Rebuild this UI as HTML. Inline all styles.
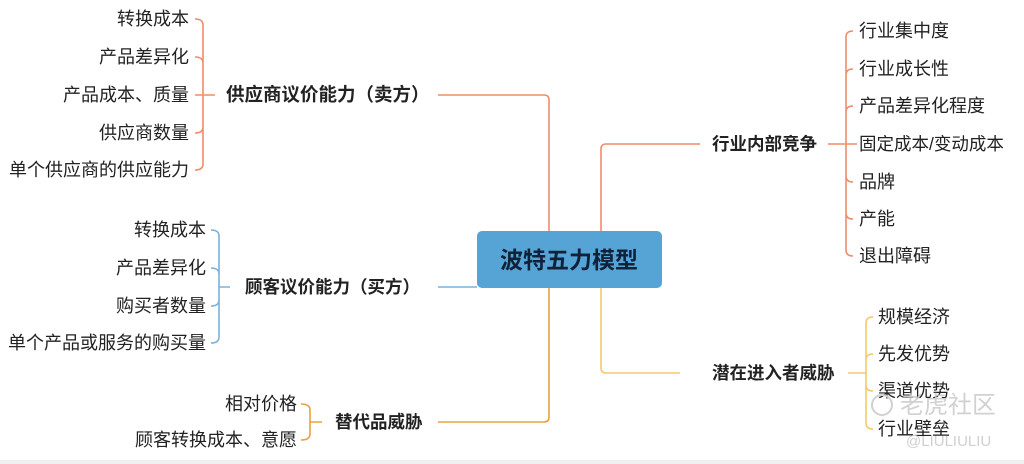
<!DOCTYPE html>
<html><head><meta charset="utf-8"><style>
html,body{margin:0;padding:0;background:#fff;}
svg{display:block;}
text{font-family:"Liberation Sans","Noto Sans CJK SC",sans-serif;fill:#222;}
.l{font-size:18px;}
.b{font-size:17.5px;font-weight:bold;}
</style></head><body>
<svg width="1024" height="464" viewBox="0 0 1024 464" xmlns="http://www.w3.org/2000/svg">
<rect x="0" y="460" width="1024" height="4" fill="#eef0f2"/>
<g fill="none" stroke-width="1.6">
<path d="M438 95 H544 Q549 95 549 100 V231" stroke="#ef8c6c"/>
<path d="M195 19 Q203 19 203 25 V164 Q203 170 195 170 M195 57 Q203 57 203 63 M195 95 H215 M195 133 Q203 133 203 127" stroke="#ef8c6c"/>
<path d="M601 231 V149 Q601 144 606 144 H700" stroke="#ef8c6c"/>
<path d="M853 31 Q846 31 846 37 V250 Q846 256 853 256 M853 69 Q846 69 846 75 M853 106 Q846 106 846 112 M828 144 H857 M853 182 Q846 182 846 176 M853 219 Q846 219 846 213" stroke="#ef8c6c"/>
<path d="M438 287 H477" stroke="#7fb0d6"/>
<path d="M211 230 Q219 230 219 236 V337 Q219 343 211 343 M211 268 Q219 268 219 274 M219 287 H230 M211 306 Q219 306 219 300" stroke="#7fb0d6"/>
<path d="M549 288 V417 Q549 422 544 422 H438" stroke="#eba040"/>
<path d="M301 404 Q310 404 310 410 V434 Q310 440 301 440 M310 422 H322" stroke="#eba040"/>
<path d="M601 288 V368 Q601 373 606 373 H680" stroke="#f5c96b"/>
<path d="M873 317 Q866 317 866 323 V423 Q866 429 873 429 M873 354 Q866 354 866 360 M848 373 H866 M873 391 Q866 391 866 385" stroke="#f5c96b"/>
</g>
<rect x="477" y="231" width="185" height="57" rx="5" fill="#56a4d6"/>
<text x="569" y="268" text-anchor="middle" style="font-size:23px;font-weight:bold;fill:#10223a">波特五力模型</text>
<g class="l" text-anchor="end">
<text x="189" y="25">转换成本</text>
<text x="189" y="63">产品差异化</text>
<text x="189" y="101">产品成本、质量</text>
<text x="189" y="139">供应商数量</text>
<text x="189" y="176">单个供应商的供应能力</text>
<text x="206" y="236">转换成本</text>
<text x="206" y="274">产品差异化</text>
<text x="206" y="312">购买者数量</text>
<text x="206" y="349">单个产品或服务的购买量</text>
<text x="297" y="410">相对价格</text>
<text x="297" y="446">顾客转换成本、意愿</text>
</g>
<g class="b">
<text x="226" y="101" style="font-size:18.5px">供应商议价能力（卖方）</text>
<text x="245" y="293">顾客议价能力（买方）</text>
<text x="335" y="428">替代品威胁</text>
<text x="712" y="150">行业内部竞争</text>
<text x="712" y="379">潜在进入者威胁</text>
</g>
<g class="l">
<text x="859" y="37">行业集中度</text>
<text x="859" y="75">行业成长性</text>
<text x="859" y="112">产品差异化程度</text>
<text x="859" y="150" style="font-size:17.5px">固定成本/变动成本</text>
<text x="859" y="188">品牌</text>
<text x="859" y="225">产能</text>
<text x="859" y="262">退出障碍</text>
<text x="878" y="323">规模经济</text>
<text x="878" y="360">先发优势</text>
<text x="878" y="397">渠道优势</text>
<text x="878" y="435">行业壁垒</text>
</g>
<text x="900" y="413" style="font-size:24px;fill:#c9c9c9;opacity:0.85">老虎社区</text>
<circle cx="882" cy="405" r="10" fill="none" stroke="#d0d0d0" stroke-width="2"/>
<text x="906" y="446" style="font-size:15px;fill:#d0d0d0">@LIULIULIU</text>
</svg>
</body></html>
